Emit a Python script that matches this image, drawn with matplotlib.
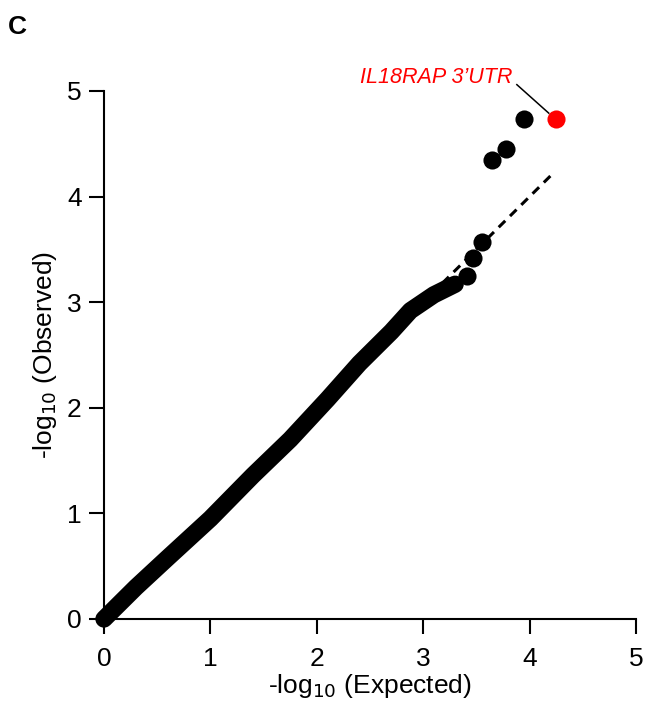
import matplotlib.pyplot as plt

plt.rcParams['font.family'] = ['Liberation Sans', 'DejaVu Sans']

# bulk of the QQ points, read along the centre of the dense band
bulk_expected = [0, 0.3, 0.6, 1.0, 1.4, 1.75, 2.1, 2.4, 2.7, 2.88, 3.1, 3.3]
bulk_observed = [0, 0.3, 0.58, 0.95, 1.36, 1.7, 2.08, 2.42, 2.72, 2.92, 3.07, 3.17]

# top tail points
tail_expected = [3.41, 3.47, 3.55, 3.65, 3.78, 3.95]
tail_observed = [3.25, 3.42, 3.57, 4.35, 4.45, 4.73]

# highlighted hit
hit_expected = 4.25
hit_observed = 4.73
hit_label = "IL18RAP 3\u2019UTR"

null_max = 4.23

fig = plt.figure(figsize=(6.5, 7.17), dpi=100)
ax = fig.add_axes([0.16, 0.1367, 0.8185, 0.7364])

# expected null line
ax.plot([0, null_max], [0, null_max], color="black", lw=2.2, ls=(0, (3, 2.2)), zorder=1)

# dense band of points
ax.plot(bulk_expected, bulk_observed, color="black", lw=12.5,
        solid_capstyle="round", solid_joinstyle="round", clip_on=False, zorder=2)
ax.scatter(tail_expected, tail_observed, s=170, color="black", lw=0, zorder=3, clip_on=False)
ax.scatter([hit_expected], [hit_observed], s=170, color="#ff0000", lw=0, zorder=4, clip_on=False)

# label for the hit
ax.text(3.84, 5.13, hit_label, color="#ff0000", fontsize=15.5, fontstyle="italic",
        ha="right", va="center")
ax.plot([3.88, 4.18], [5.06, 4.79], color="black", lw=1.1, clip_on=False)

ax.set_xlim(0, 5)
ax.set_ylim(0, 5)
ax.set_xticks([0, 1, 2, 3, 4, 5])
ax.set_yticks([0, 1, 2, 3, 4, 5])
ax.tick_params(length=11, width=1.5, labelsize=19)
ax.tick_params(axis="x", pad=9)
ax.tick_params(axis="y", pad=5)
for side in ["top", "right"]:
    ax.spines[side].set_visible(False)
for side in ["left", "bottom"]:
    ax.spines[side].set_linewidth(1.5)

ax.set_xlabel("-log$_{10}$ (Expected)", fontsize=19, labelpad=1)
ax.set_ylabel("-log$_{10}$ (Observed)", fontsize=19, labelpad=6)

fig.text(0.012, 0.962, "C", fontsize=19, fontweight="bold", va="center")

fig.savefig("out.png", dpi=100)
